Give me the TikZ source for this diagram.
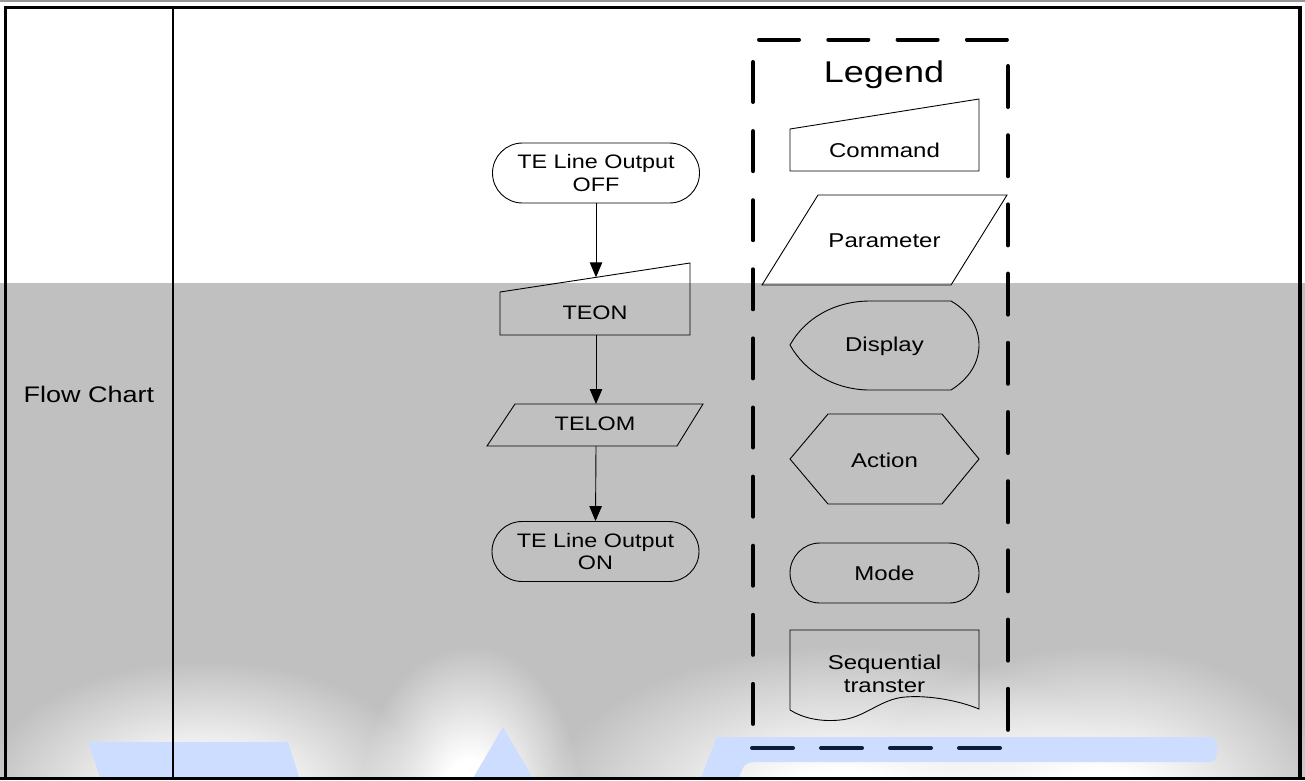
\documentclass[tikz,border=0pt]{standalone}
\usepackage{fontspec}
\setmainfont[FakeStretch=1.2]{Liberation Sans}
\usetikzlibrary{shapes.misc,arrows.meta,fadings}
\definecolor{bandgray}{RGB}{192,192,192}
\definecolor{wmblue}{RGB}{204,221,255}
\definecolor{navy}{RGB}{14,28,60}
\definecolor{topgray}{RGB}{150,150,150}
\pgfdeclareradialshading{blobshade}{\pgfpoint{0bp}{0bp}}{color(0bp)=(pgftransparent!0); color(6bp)=(pgftransparent!0); color(25bp)=(pgftransparent!100); color(50bp)=(pgftransparent!100)}
\pgfdeclarefading{blob}{\pgfuseshading{blobshade}}
\begin{document}
\begin{tikzpicture}[x=1pt,y=-1pt,
  shapeline/.style={draw=black,line width=0.9pt},
  term/.style={shapeline,rounded rectangle,minimum width=207pt,minimum height=60pt,inner sep=0pt,align=center,font=\fontsize{19.5}{22.5}\selectfont},
  lbl/.style={inner sep=0pt,align=center,font=\fontsize{19.5}{22.5}\selectfont},
  leglbl/.style={inner sep=0pt,align=center,font=\fontsize{20}{23}\selectfont},
  flowarrow/.style={draw=black,line width=0.9pt,-{Triangle[width=12.5pt,length=15pt]}},
  legdash/.style={line width=4pt,line cap=round},
  frame/.style={draw=black},
  whiteblob/.style={white,path fading=blob}]
\useasboundingbox (0,0) rectangle (1305,780);
% background band
\fill[bandgray] (0,283) rectangle (1305,780);
\fill[whiteblob] (205,800) ellipse (230 and 140);
\fill[whiteblob] (470,795) ellipse (110 and 150);
\fill[whiteblob] (840,810) ellipse (300 and 165);
\fill[whiteblob] (1100,810) ellipse (240 and 165);
% watermark shapes
\fill[wmblue] (88,742) -- (288,742) -- (300,780) -- (101,780) -- cycle;
\fill[wmblue] (503,727) -- (534,780) -- (472,780) -- cycle;
\fill[wmblue,rounded corners=8pt] (717,737) -- (1217,737) -- (1217,762) -- (745,762) [sharp corners] -- (738,780) -- (700,780) -- cycle;
% top thin line
\draw[topgray,line width=1.5pt] (0,0.75) -- (1305,0.75);
% frame
\draw[frame,line width=3pt] (5,7.3) -- (1300,7.3);
\draw[frame,line width=3pt] (5,6) -- (5,780);
\draw[frame,line width=3.5pt] (1300,6) -- (1300,780);
\draw[frame,line width=3pt] (0,778.5) -- (1305,778.5);
\draw[frame,line width=1.5pt] (173,7) -- (173,778);
\node[inner sep=0pt,font=\fontsize{22.5}{26}\selectfont] (fc) at (89,394) {Flow Chart};
% flow chart
\node[term] (start) at (596,173) {TE Line Output\\OFF};
\draw[shapeline] (500,292) -- (690,263) -- (690,335) -- (500,335) -- cycle;
\node[lbl] (teon) at (595,313) {TEON};
\coordinate (teontop) at (596,277.3);
\coordinate (teonbot) at (596,335);
\draw[shapeline] (515,404) -- (703,404) -- (677,446) -- (487,446) -- cycle;
\node[lbl] (telom) at (595,424) {TELOM};
\coordinate (telomtop) at (596,404);
\coordinate (telombot) at (596,446);
\node[term] (stop) at (595.5,551.5) {TE Line Output\\ON};
\draw[flowarrow] (start.south) -- (teontop);
\draw[flowarrow] (teonbot) -- (telomtop);
\draw[flowarrow] (telombot) -- (stop.north);
% legend box
\foreach \a in {0,...,3} {\draw[legdash] ({759+69.3*\a},39.5) -- ({759+69.3*\a+40},39.5);}
\foreach \a in {0,...,9} {\draw[legdash] (753,{62+69.1*\a}) -- (753,{62+69.1*\a+40});}
\foreach \a in {0,...,9} {\draw[legdash] (1008,{66+69.2*\a}) -- (1008,{66+69.2*\a+41});}
\foreach \a in {0,...,3} {\draw[legdash,navy] ({752+69*\a},748) -- ({752+69*\a+41},748);}
\node[inner sep=0pt,font=\fontsize{30}{34}\selectfont] (legend) at (884,75) {Legend};
% legend shapes
\draw[shapeline] (790,129) -- (979,99) -- (979,171) -- (790,171) -- cycle;
\node[leglbl] (cmd) at (884.5,150) {Command};
\draw[shapeline] (818,195) -- (1007,195) -- (951,285) -- (762,285) -- cycle;
\node[leglbl] (par) at (884.5,241) {Parameter};
\draw[shapeline] (790,345) .. controls (805,318) and (835,301) .. (870,301) -- (951,301)
  .. controls (970,312) and (979,328) .. (979,345) .. controls (979,362) and (970,378) .. (951,390)
  -- (870,390) .. controls (835,390) and (805,372) .. (790,345) -- cycle;
\node[leglbl] (disp) at (884.5,346) {Display};
\draw[shapeline] (790,459) -- (828,414) -- (942,414) -- (979,459) -- (942,504) -- (828,504) -- cycle;
\node[leglbl] (act) at (884.5,460) {Action};
\node[term,minimum width=189pt,font=\fontsize{20}{23}\selectfont] (mode) at (884.5,573) {Mode};
\draw[shapeline] (790,710) -- (790,630) -- (979,630) -- (979,709)
  .. controls (960,701) and (930,695) .. (905,697)
  .. controls (880,699) and (865,718) .. (840,720)
  .. controls (820,722) and (803,718) .. (790,710);
\node[leglbl] (seq) at (884.5,674) {Sequential\\transter};
\end{tikzpicture}
\end{document}
